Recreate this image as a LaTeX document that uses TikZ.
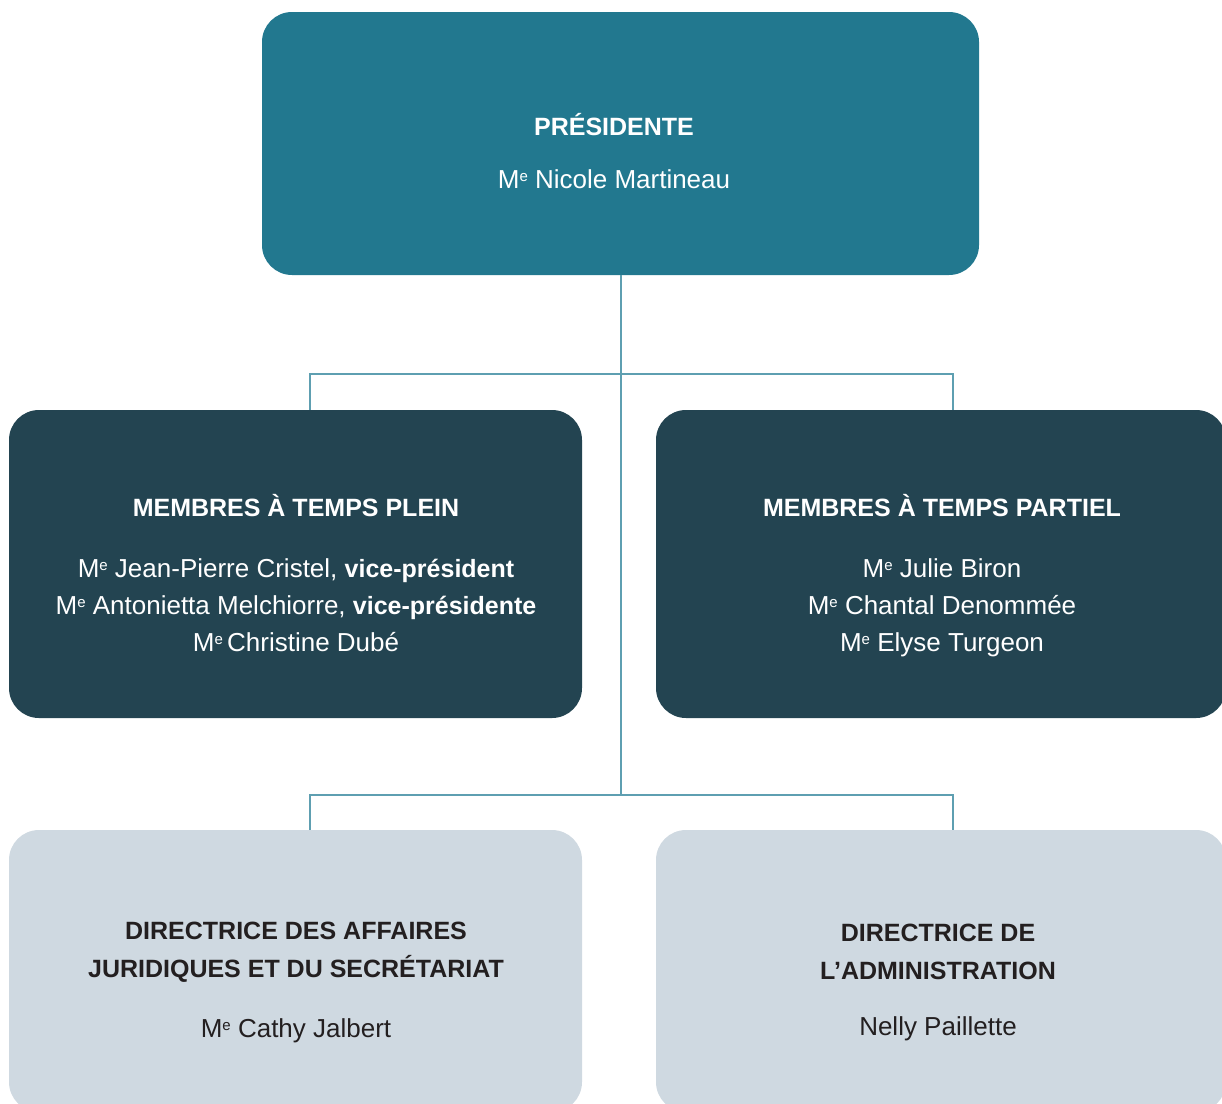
\documentclass[tikz,border=0pt]{standalone}
\usepackage{fontspec}
\setmainfont{Liberation Sans}
\definecolor{topc}{HTML}{22788F}
\definecolor{midc}{HTML}{234451}
\definecolor{lowc}{HTML}{CFD9E1}
\definecolor{linec}{HTML}{5E9FB1}
\definecolor{darktxt}{HTML}{231F20}
\newcommand{\MeTitle}{M\raisebox{7pt}{\fontsize{15}{15}\selectfont e}}
\newcommand{\bld}[1]{{\fontsize{25}{30}\selectfont\bfseries #1}}
\begin{document}
\begin{tikzpicture}[x=1pt,y=-1pt,
  boxshape/.style={rounded corners=30pt, inner sep=0pt, draw=none},
  topbox/.style={boxshape, fill=topc},
  midbox/.style={boxshape, fill=midc},
  lowbox/.style={boxshape, fill=lowc},
  txt/.style={anchor=base, inner sep=0pt, font=\fontsize{26}{31}\selectfont},
  wtxt/.style={txt, text=white},
  dtxt/.style={txt, text=darktxt},
  conn/.style={draw=linec, line width=1.6pt}]
\useasboundingbox (0,0) rectangle (1222,1103);
\clip (0,0) rectangle (1222,1103);
% boxes
\node[topbox, minimum width=717pt, minimum height=263pt] (top) at (620.5,143.5) {};
\node[midbox, minimum width=573pt, minimum height=308pt] (pm) at (295.5,564) {};
\node[midbox, minimum width=570pt, minimum height=308pt] (pp) at (941,564) {};
\node[lowbox, minimum width=573pt, minimum height=282pt] (dj) at (295.5,971) {};
\node[lowbox, minimum width=570pt, minimum height=282pt] (da) at (941,971) {};
% connectors
\coordinate (j1) at (621,374);
\coordinate (j2) at (621,795);
\coordinate (a1) at (310,0);
\coordinate (a2) at (953,0);
\draw[conn] (top.south -| j1) -- (j2);
\draw[conn] (pm.north -| a1) |- (j1) -| (pp.north -| a2);
\draw[conn] (dj.north -| a1) |- (j2) -| (da.north -| a2);
% texts top
\node[wtxt] (t1) at (614,135) {\bld{PRÉSIDENTE}};
\node[wtxt] (t2) at (614,188) {\MeTitle{} Nicole Martineau};
% middle left
\node[wtxt] (l0) at (296,516) {\bld{MEMBRES À TEMPS PLEIN}};
\node[wtxt] (l1) at (296,577) {\MeTitle{} Jean-Pierre Cristel, \bld{vice-président}};
\node[wtxt] (l2) at (296,614) {\MeTitle{} Antonietta Melchiorre, \bld{vice-présidente}};
\node[wtxt] (l3) at (296,651) {\MeTitle{}\,Christine Dubé};
% middle right
\node[wtxt] (r0) at (942,516) {\bld{MEMBRES À TEMPS PARTIEL}};
\node[wtxt] (r1) at (942,577) {\MeTitle{} Julie Biron};
\node[wtxt] (r2) at (942,614) {\MeTitle{} Chantal Denommée};
\node[wtxt] (r3) at (942,651) {\MeTitle{} Elyse Turgeon};
% bottom left
\node[dtxt] (b1) at (296,939) {\bld{DIRECTRICE DES AFFAIRES}};
\node[dtxt] (b2) at (296,977) {\bld{JURIDIQUES ET DU SECRÉTARIAT}};
\node[dtxt] (b3) at (296,1037) {\MeTitle{} Cathy Jalbert};
% bottom right
\node[dtxt] (c1) at (938,941) {\bld{DIRECTRICE DE}};
\node[dtxt] (c2) at (938,979) {\bld{L’ADMINISTRATION}};
\node[dtxt] (c3) at (938,1035) {Nelly Paillette};
\end{tikzpicture}
\end{document}
